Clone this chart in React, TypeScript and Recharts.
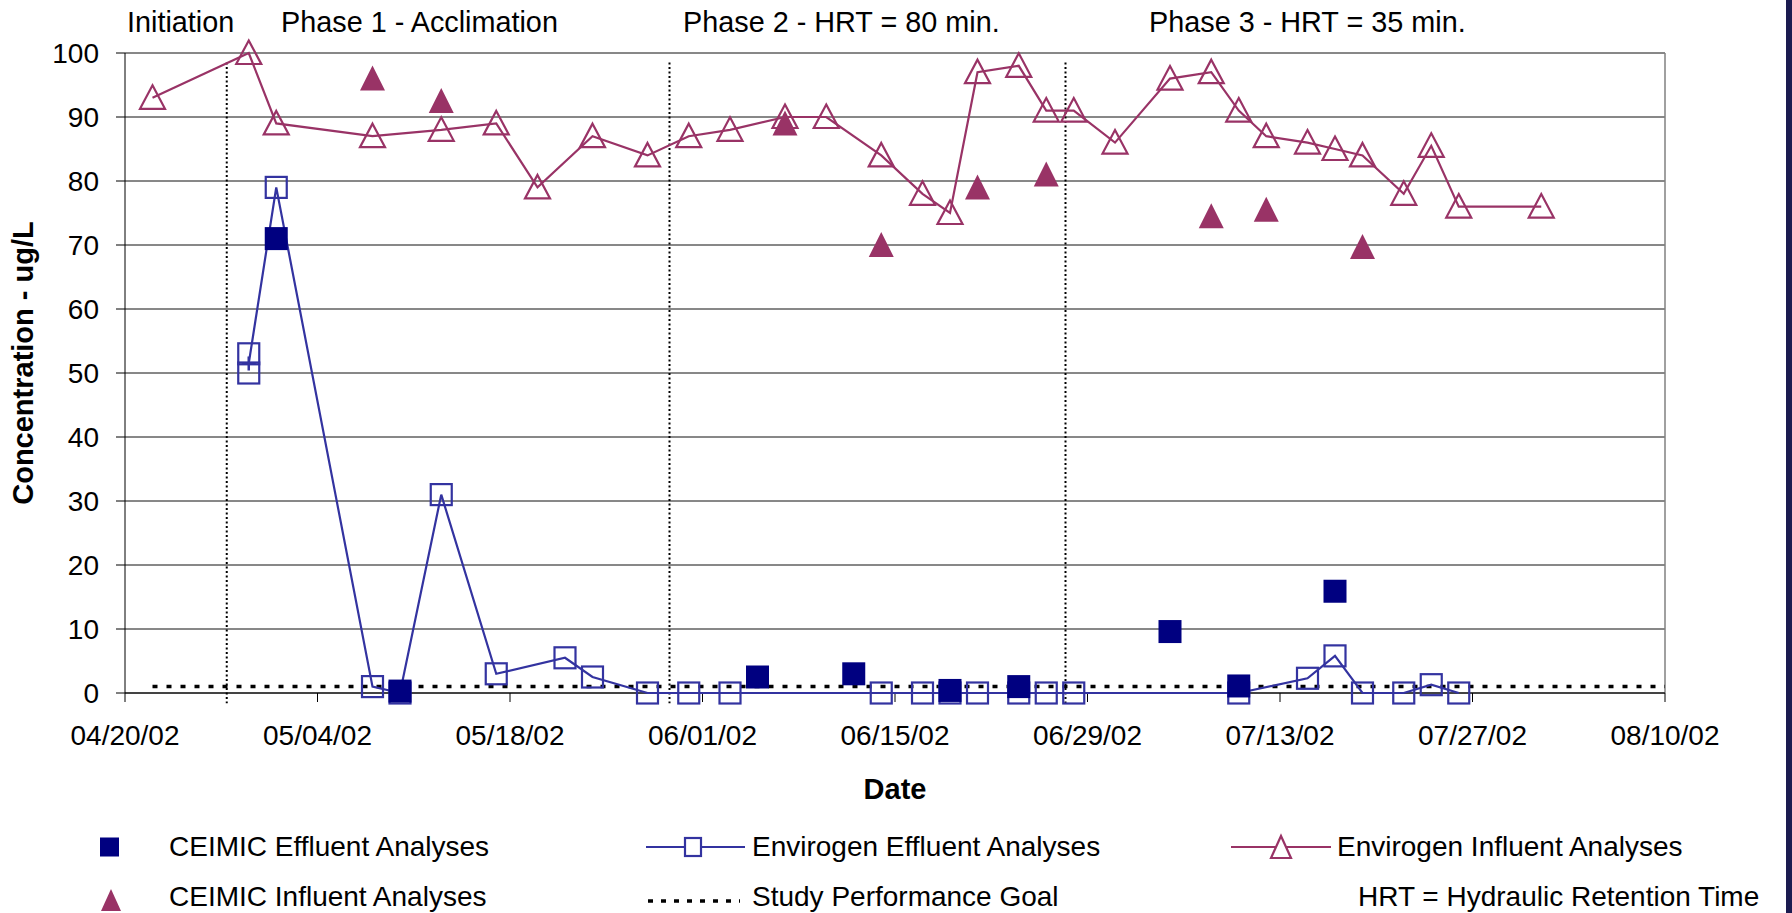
import { ScatterChart, Scatter, XAxis, YAxis, CartesianGrid, ReferenceLine } from "recharts";

const PLUM = "#993366";
const INDIGO = "#3333a0";
const NAVY = "#000080";
const FONT = "'Liberation Sans', Arial, sans-serif";

// days since 04/20/02
const xTicks = [0, 14, 28, 42, 56, 70, 84, 98, 112];
const xTickLabels = ["04/20/02", "05/04/02", "05/18/02", "06/01/02", "06/15/02", "06/29/02", "07/13/02", "07/27/02", "08/10/02"];
const yTicks = [0, 10, 20, 30, 40, 50, 60, 70, 80, 90, 100];

const envInfluentDays = [2, 9, 11, 18, 23, 27, 30, 34, 38, 41, 44, 48, 51, 55, 58, 60, 62, 65, 67, 69, 72, 76, 79, 81, 83, 86, 88, 90, 93, 95, 97, 103];
const envInfluentValues = [93, 100, 89, 87, 88, 89, 79, 87, 84, 87, 88, 90, 90, 84, 78, 75, 97, 98, 91, 91, 86, 96, 97, 91, 87, 86, 85, 84, 78, 85.5, 76, 76];

const ceimicInfluentDays = [18, 23, 48, 55, 62, 67, 79, 83, 90];
const ceimicInfluentValues = [96, 92.5, 89, 70, 79, 81, 74.5, 75.5, 69.7];

const ceimicEffluentDays = [11, 20, 46, 53, 60, 65, 76, 81, 88];
const ceimicEffluentValues = [71, 0.3, 2.5, 3, 0.4, 1, 9.6, 1.1, 15.9];

const envEffluentDays = [9, 11, 18, 20, 23, 27, 32, 34, 38, 41, 44, 55, 58, 60, 62, 65, 67, 69, 81, 86, 88, 90, 93, 95, 97];
const envEffluentValues = [51.5, 79, 1, 0, 31, 3, 5.5, 2.5, 0, 0, 0, 0, 0, 0, 0, 0, 0, 0, 0, 2.3, 5.8, 0, 0, 1.3, 0];

// duplicate samples on the first effluent day (line runs through their mean)
const replicateDay = 9;
const replicateValues = [53, 50];

const phaseBoundaries = [7.4, 39.6, 68.4];
const goalValue = 1;
const goalStartDay = 2;

const toPoints = (days: number[], values: number[]) => days.map((d, i) => ({ day: d, value: values[i] }));

const HollowTriangle = (p: any) => (
  <path d={`M${p.cx},${p.cy - 12.5} L${p.cx + 12.5},${p.cy + 11} L${p.cx - 12.5},${p.cy + 11} Z`} fill="none" stroke={PLUM} strokeWidth={2.2} />
);
const FilledTriangle = (p: any) => (
  <path d={`M${p.cx},${p.cy - 13} L${p.cx + 12.5},${p.cy + 12} L${p.cx - 12.5},${p.cy + 12} Z`} fill={PLUM} />
);
const FilledSquare = (p: any) => <rect x={p.cx - 11.5} y={p.cy - 11.5} width={23} height={23} fill={NAVY} />;
const BoxSquare = (p: any) => (
  <rect x={p.cx - 10.5} y={p.cy - 10.5} width={21} height={21} fill="none" stroke={INDIGO} strokeWidth={2.2} />
);
const HollowSquare = (p: any) =>
  p.payload && p.payload.day === replicateDay ? (
    <path d={`M${p.cx - 7},${p.cy} H${p.cx + 7} M${p.cx},${p.cy - 7} V${p.cy + 7}`} stroke={INDIGO} strokeWidth={2.5} />
  ) : (
    <BoxSquare {...p} />
  );

const txt = { position: "absolute" as const, fontFamily: FONT, fontSize: 28, color: "#000", whiteSpace: "nowrap" as const, lineHeight: 1 };

export default function App() {
  return (
    <div style={{ position: "fixed", left: 0, top: 0, width: 1792, height: 913, background: "#fff", overflow: "hidden" }}>
      <ScatterChart width={1792} height={913} margin={{ top: 53, right: 127, bottom: 160, left: 0 }}>
        <CartesianGrid horizontal vertical={false} stroke="#111" />
        <XAxis
          type="number"
          dataKey="day"
          domain={[0, 112]}
          ticks={xTicks}
          height={60}
          tickSize={9}
          tickMargin={23}
          tickFormatter={(v: number) => xTickLabels[xTicks.indexOf(v)] ?? ""}
          tick={{ fill: "#000", fontSize: 28, fontFamily: FONT }}
          axisLine={{ stroke: "#000" }}
          tickLine={{ stroke: "#000" }}
        />
        <YAxis
          type="number"
          dataKey="value"
          domain={[0, 100]}
          ticks={yTicks}
          width={125}
          tickSize={9}
          tickMargin={17}
          tick={{ fill: "#000", fontSize: 28, fontFamily: FONT }}
          axisLine={{ stroke: "#000" }}
          tickLine={{ stroke: "#000" }}
        />
        <ReferenceLine x={112} stroke="#808080" strokeWidth={1.5} />
        {phaseBoundaries.map((d) => (
          <ReferenceLine
            key={d}
            segment={[{ x: d, y: 98.5 }, { x: d, y: -1.6 }]}
            ifOverflow="visible"
            stroke="#000"
            strokeWidth={2}
            strokeDasharray="2 2.5"
          />
        ))}
        <ReferenceLine
          segment={[{ x: goalStartDay, y: goalValue }, { x: 112, y: goalValue }]}
          ifOverflow="visible"
          stroke="#000"
          strokeWidth={3.5}
          strokeDasharray="5 9"
        />
        <Scatter data={toPoints(envInfluentDays, envInfluentValues)} line={{ stroke: PLUM, strokeWidth: 2.2 }} shape={HollowTriangle} isAnimationActive={false} />
        <Scatter data={toPoints(envEffluentDays, envEffluentValues)} line={{ stroke: INDIGO, strokeWidth: 2.2 }} shape={HollowSquare} isAnimationActive={false} />
        <Scatter data={replicateValues.map((v) => ({ day: replicateDay, value: v }))} shape={BoxSquare} isAnimationActive={false} />
        <Scatter data={toPoints(ceimicInfluentDays, ceimicInfluentValues)} shape={FilledTriangle} isAnimationActive={false} />
        <Scatter data={toPoints(ceimicEffluentDays, ceimicEffluentValues)} shape={FilledSquare} isAnimationActive={false} />
      </ScatterChart>

      {/* phase labels */}
      <div style={{ ...txt, fontSize: 28.8, left: 127, top: 8 }}>Initiation</div>
      <div style={{ ...txt, fontSize: 28.8, left: 281, top: 8 }}>Phase 1 - Acclimation</div>
      <div style={{ ...txt, fontSize: 28.8, left: 683, top: 8 }}>Phase 2 - HRT = 80 min.</div>
      <div style={{ ...txt, fontSize: 28.8, left: 1149, top: 8 }}>Phase 3 - HRT = 35 min.</div>

      {/* axis titles */}
      <div style={{ ...txt, fontWeight: "bold", fontSize: 29, left: 23, top: 363, transform: "translate(-50%, -50%) rotate(-90deg)" }}>
        Concentration - ug/L
      </div>
      <div style={{ ...txt, fontWeight: "bold", fontSize: 29, left: 895, top: 789, transform: "translate(-50%, -50%)" }}>Date</div>

      {/* legend */}
      <svg style={{ position: "absolute", left: 0, top: 820 }} width={1792} height={93}>
        <rect x={100} y={17.5} width={19} height={19} fill={NAVY} />
        <line x1={646} y1={27} x2={745} y2={27} stroke={INDIGO} strokeWidth={2.2} />
        <rect x={685} y={18} width={16} height={18} fill="#fff" stroke={INDIGO} strokeWidth={2.2} />
        <line x1={1231} y1={27} x2={1331} y2={27} stroke={PLUM} strokeWidth={2.2} />
        <path d="M1281,16 L1291,38 L1271,38 Z" fill="#fff" stroke={PLUM} strokeWidth={2.2} />
        <path d="M111,69 L121,91 L101,91 Z" fill={PLUM} />
        <line x1={648} y1={81} x2={740} y2={81} stroke="#000" strokeWidth={3.5} strokeDasharray="5 8" />
      </svg>
      <div style={{ ...txt, left: 169, top: 833 }}>CEIMIC Effluent Analyses</div>
      <div style={{ ...txt, left: 752, top: 833 }}>Envirogen Effluent Analyses</div>
      <div style={{ ...txt, left: 1337, top: 833 }}>Envirogen Influent Analyses</div>
      <div style={{ ...txt, left: 169, top: 883 }}>CEIMIC Influent Analyses</div>
      <div style={{ ...txt, left: 752, top: 883 }}>Study Performance Goal</div>
      <div style={{ ...txt, left: 1358, top: 883 }}>HRT = Hydraulic Retention Time</div>

      <div style={{ position: "absolute", right: 0, top: 0, width: 6, height: 913, background: "#1b1b50" }} />
    </div>
  );
}
